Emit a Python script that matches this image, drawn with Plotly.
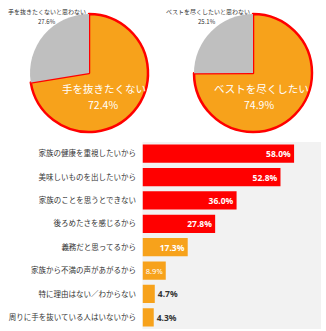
import plotly.graph_objects as go

# Pie data
pie1_labels = ["手を抜きたくない", "手を抜きたくないと思わない"]
pie1_values = [72.4, 27.6]
pie2_labels = ["ベストを尽くしたい", "ベストを尽くしたいと思わない"]
pie2_values = [74.9, 25.1]

# Bar data
bar_categories = [
    "家族の健康を重視したいから",
    "美味しいものを出したいから",
    "家族のことを思うとできない",
    "後ろめたさを感じるから",
    "義務だと思ってるから",
    "家族から不満の声があがるから",
    "特に理由はない／わからない",
    "周りに手を抜いている人はいないから",
]
bar_values = [58.0, 52.8, 36.0, 27.8, 17.3, 8.9, 4.7, 4.3]

RED = "#FF0000"
ORANGE = "#F7A21B"
GRAY = "#BFBFBF"
FONT = "Noto Sans CJK JP"
W, H = 326, 331

def px(x):
    return x / W

def py(y):
    return 1 - y / H

fig = go.Figure()

pie_style = dict(
    sort=False, direction="clockwise", rotation=0, textinfo="none",
    hoverinfo="label+percent", showlegend=False,
    marker=dict(colors=[ORANGE, GRAY], line=dict(color=[RED, "#FFFFFF"], width=[2.5, 0])),
)
fig.add_trace(go.Pie(labels=pie1_labels, values=pie1_values,
                     domain=dict(x=[px(30), px(148)], y=[py(132), py(14)]), **pie_style))
fig.add_trace(go.Pie(labels=pie2_labels, values=pie2_values,
                     domain=dict(x=[px(194), px(312)], y=[py(132), py(14)]), **pie_style))

colors = [RED if v > 20 else ORANGE for v in bar_values]
textpos = ["inside" if v > 8 else "outside" for v in bar_values]
textcol = ["#FFFFFF" if v > 8 else "#333333" for v in bar_values]
textsize = [7.6 if 8 < v < 10 else 8.5 for v in bar_values]
textweight = ["normal" if 8 < v < 10 else "bold" for v in bar_values]
fig.add_trace(go.Bar(
    x=bar_values, y=bar_categories, orientation="h",
    marker=dict(color=colors, line=dict(width=0)),
    text=[f"{v:.1f}%" for v in bar_values], textposition=textpos,
    insidetextanchor="end", constraintext="none", cliponaxis=False,
    textfont=dict(family="Noto Sans", size=textsize, color=textcol, weight=textweight),
    showlegend=False, xaxis="x", yaxis="y",
))

annotations = []
for x, y, t in [(47, 11, pie1_labels[1]), (47, 21, f"{pie1_values[1]}%"),
                (208, 11, pie2_labels[1]), (207, 21, f"{pie2_values[1]}%")]:
    annotations.append(dict(x=px(x), y=py(y), xref="paper", yref="paper", text=t,
                            xanchor="center", yanchor="middle",
                            showarrow=False, font=dict(family=FONT, size=6, color="#333333")))
for x, y, t in [(104, 88, pie1_labels[0]), (103, 104, f"{pie1_values[0]}%"),
                (261, 88, pie2_labels[0]), (259, 104, f"{pie2_values[0]}%")]:
    annotations.append(dict(x=px(x), y=py(y), xref="paper", yref="paper", text=t,
                            xanchor="center", yanchor="middle",
                            showarrow=False, font=dict(family=FONT, size=10.5, color="#FFFFFF")))

fig.update_layout(
    width=W, height=H, margin=dict(l=0, r=0, t=0, b=0, autoexpand=False),
    paper_bgcolor="#FFFFFF", plot_bgcolor="#F2F2F2",
    font=dict(family=FONT, size=7.5, color="#333333"),
    bargap=0.22,
    xaxis=dict(domain=[px(142.5), px(321)], range=[0, 68.3], showgrid=False,
               zeroline=False, showticklabels=False, ticks="", fixedrange=True,
               automargin=False),
    yaxis=dict(domain=[py(329), py(142)], autorange="reversed", showgrid=False,
               zeroline=False, ticks="outside", ticklen=4, tickcolor="rgba(0,0,0,0)",
               automargin=False,
               tickfont=dict(family=FONT, size=7.5, color="#333333")),
    annotations=annotations,
)

fig.write_html("out.html")
